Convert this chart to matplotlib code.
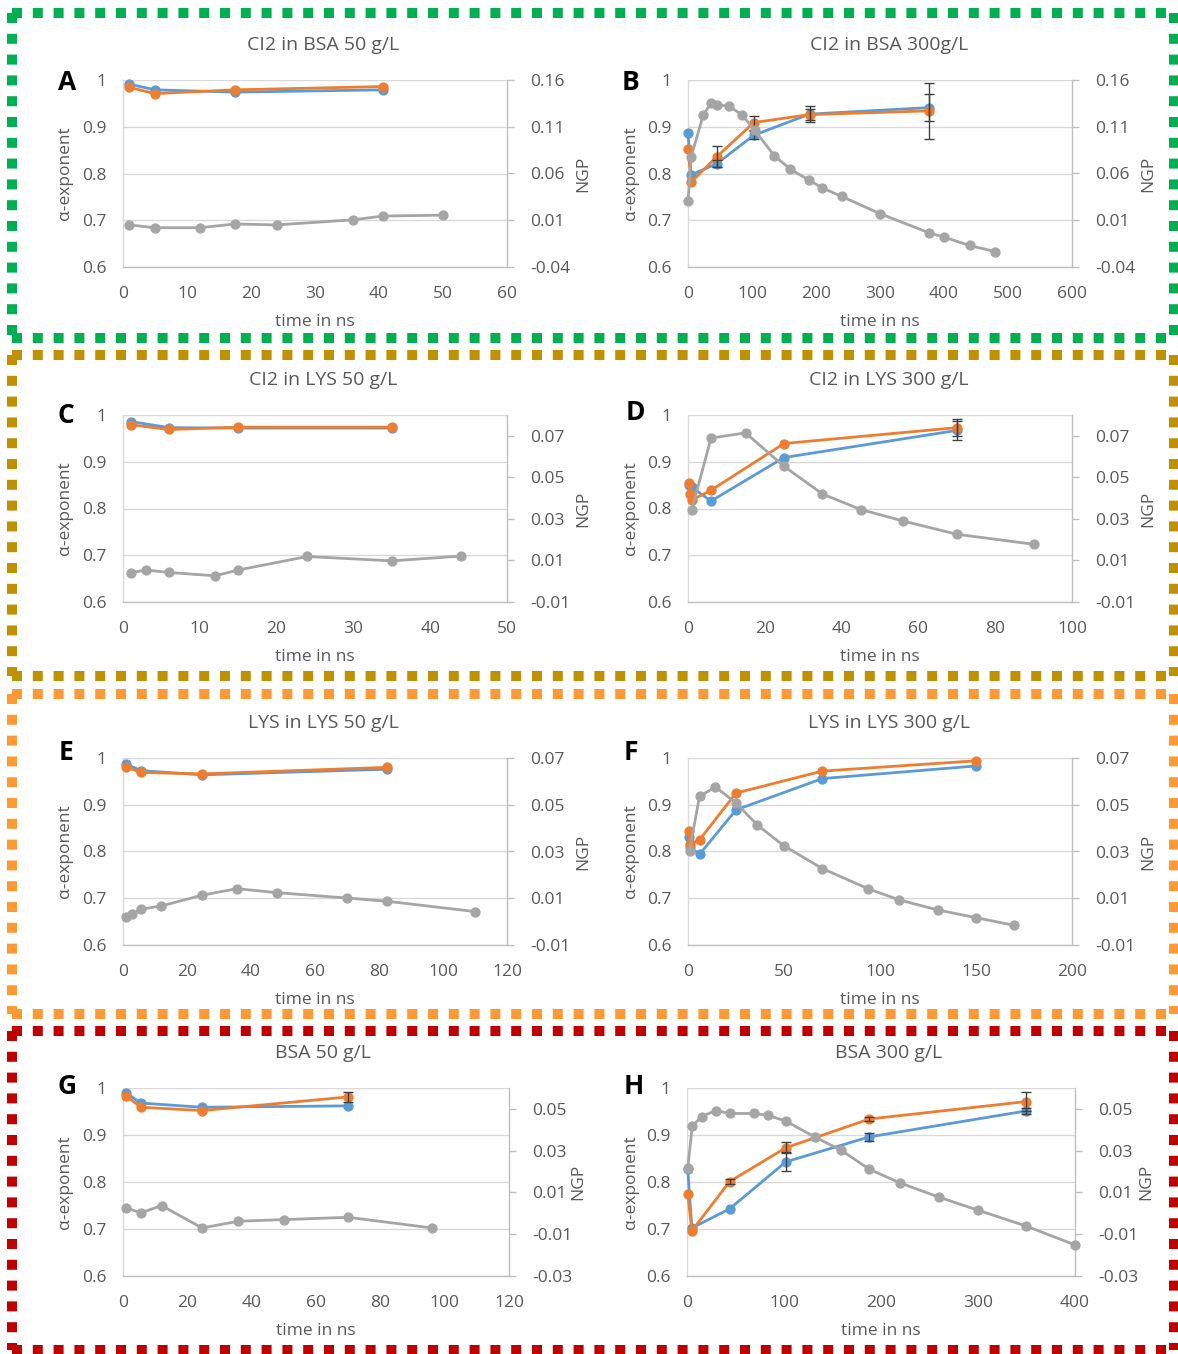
import numpy as np
import matplotlib
matplotlib.use("Agg")
import matplotlib.pyplot as plt
from matplotlib.lines import Line2D

plt.rcParams['font.family'] = ['Open Sans', 'DejaVu Sans']

# ---------------- data ----------------
# Panel A : CI2 in BSA 50 g/L
tA = [1, 5, 17.5, 40.7]
A_blue = [0.991, 0.979, 0.974, 0.979]
A_orange = [0.984, 0.971, 0.979, 0.986]
tA_ngp = [1, 5, 12, 17.5, 24, 36, 40.6, 50]
A_ngp = [0.005, 0.002, 0.002, 0.006, 0.005, 0.0105, 0.0145, 0.0155]

# Panel B : CI2 in BSA 300 g/L
tB = [0, 5, 45, 103, 190, 377]
B_blue = [0.886, 0.797, 0.821, 0.882, 0.927, 0.941]
B_orange = [0.852, 0.782, 0.836, 0.909, 0.926, 0.934]
B_blue_err = [0, 0, 0.008, 0.008, 0.017, 0.028]
B_orange_err = [0, 0, 0.022, 0.015, 0.012, 0.06]
tB_ngp = [0, 5, 24, 36, 45, 64, 84, 104, 135, 160, 189, 210, 240, 300, 377, 400, 440, 480]
B_ngp = [0.0305, 0.078, 0.123, 0.135, 0.1335, 0.132, 0.123, 0.1065, 0.079, 0.0645,
         0.053, 0.0445, 0.0355, 0.017, -0.0035, -0.008, -0.017, -0.0235]

# Panel C : CI2 in LYS 50 g/L
tC = [1, 6, 15, 35]
C_blue = [0.986, 0.973, 0.972, 0.972]
C_orange = [0.979, 0.969, 0.974, 0.974]
tC_ngp = [1, 3, 6, 12, 15, 24, 35, 44]
C_ngp = [0.0041, 0.0054, 0.0042, 0.0026, 0.0054, 0.0119, 0.0098, 0.0121]

# Panel D : CI2 in LYS 300 g/L
tD_blue = [0.2, 1, 6, 25, 70]
D_blue = [0.85, 0.845, 0.816, 0.909, 0.967]
D_blue_err = [0, 0, 0, 0, 0.02]
tD_orange = [0.2, 0.5, 1, 6, 25, 70]
D_orange = [0.855, 0.832, 0.818, 0.839, 0.939, 0.973]
D_orange_err = [0, 0, 0, 0, 0, 0.018]
tD_ngp = [1, 6, 15, 25, 35, 45, 56, 70, 90]
D_ngp = [0.0345, 0.0689, 0.0714, 0.0553, 0.042, 0.0345, 0.029, 0.0226, 0.0178]

# Panel E : LYS in LYS 50 g/L
tE = [1, 5.6, 24.7, 82.6]
E_blue = [0.987, 0.973, 0.964, 0.976]
E_orange = [0.981, 0.969, 0.966, 0.98]
tE_ngp = [1, 2.7, 5.6, 12, 24.7, 35.6, 48, 70, 82.6, 110]
E_ngp = [0.002, 0.0033, 0.0053, 0.0067, 0.0113, 0.0141, 0.0124, 0.0101, 0.0087, 0.0043]

# Panel F : LYS in LYS 300 g/L
tF_blue = [0.3, 1, 6, 25, 70, 150]
F_blue = [0.83, 0.81, 0.794, 0.889, 0.956, 0.983]
tF_orange = [0.3, 1, 6, 25, 70, 150]
F_orange = [0.844, 0.816, 0.825, 0.925, 0.972, 0.994]
tF_ngp = [0.8, 6, 14.3, 25.2, 36, 50, 70, 94, 110, 130, 150, 170]
F_ngp = [0.0304, 0.0536, 0.0576, 0.0506, 0.0414, 0.0324, 0.0227, 0.014, 0.0093, 0.005, 0.0017, -0.0016]

# Panel G : BSA 50 g/L
tG = [0.8, 5.6, 24.6, 70]
G_blue = [0.99, 0.968, 0.959, 0.962]
G_orange = [0.984, 0.959, 0.952, 0.981]
G_orange_err = [0, 0, 0, 0.01]
tG_ngp = [0.8, 5.6, 12, 24.6, 35.8, 50, 70, 96]
G_ngp = [0.0026, 0.0003, 0.0037, -0.007, -0.0038, -0.003, -0.0019, -0.007]

# Panel H : BSA 300 g/L
tH = [0.8, 5, 44, 102, 188, 349]
H_blue = [0.827, 0.702, 0.743, 0.843, 0.896, 0.951]
H_blue_err = [0, 0, 0, 0.02, 0.008, 0.007]
H_orange = [0.775, 0.696, 0.801, 0.873, 0.934, 0.971]
H_orange_err = [0, 0, 0.005, 0.012, 0.005, 0.02]
tH_ngp = [0.8, 5.4, 15, 29.5, 44, 69, 83, 102, 131.5, 159, 188, 219.5, 260, 300, 349, 400]
H_ngp = [0.0217, 0.0417, 0.0463, 0.0492, 0.0478, 0.0478, 0.047, 0.0441, 0.0366,
         0.0302, 0.0211, 0.0146, 0.0077, 0.0015, -0.006, -0.0151]

titles = ["CI2 in BSA 50 g/L", "CI2 in BSA 300g/L", "CI2 in LYS 50 g/L", "CI2 in LYS 300 g/L",
          "LYS in LYS 50 g/L", "LYS in LYS 300 g/L", "BSA 50 g/L", "BSA 300 g/L"]
letters = ["A", "B", "C", "D", "E", "F", "G", "H"]
alpha_ticks = [0.6, 0.7, 0.8, 0.9, 1.0]
alpha_labels = ["0.6", "0.7", "0.8", "0.9", "1"]
ngp_ticks_AB = [-0.04, 0.01, 0.06, 0.11, 0.16]
ngp_ticks_CD = [-0.01, 0.01, 0.03, 0.05, 0.07]
ngp_ticks_EF = [-0.01, 0.01, 0.03, 0.05, 0.07]
ngp_ticks_GH = [-0.03, -0.01, 0.01, 0.03, 0.05]

# ---------------- style ----------------
BLUE = "#5B9BD5"
ORANGE = "#ED7D31"
GRAY = "#A5A5A5"
TXT = "#595959"
ERR = "#404040"

W, H = 1178, 1354
fig = plt.figure(figsize=(W / 100, H / 100), dpi=100)


def rect(l, r, t, b):
    return [l / W, 1 - b / H, (r - l) / W, (b - t) / H]


def fmt_ngp(v):
    return f"{v:.2f}"


def panel(box, xlim, xstep, ngp_lim, ngp_ticks, series, ngp, title, letter,
          title_x, title_y, letter_xy, ylab_x, ngplab_x, xlab_y):
    l, r, t, b = box
    ax = fig.add_axes(rect(l, r, t, b))
    ax.set_xlim(*xlim)
    ax.set_ylim(0.6, 1.0)
    xt = np.arange(xlim[0], xlim[1] + 1e-9, xstep)
    ax.set_xticks(xt)
    ax.set_xticklabels([f"{int(v)}" for v in xt])
    ax.set_yticks(alpha_ticks)
    ax.set_yticklabels(alpha_labels)
    ax.grid(axis='y', color="#D9D9D9", linewidth=1.0)
    ax.set_axisbelow(True)
    for s in ["top", "right"]:
        ax.spines[s].set_visible(False)
    ax.spines["left"].set_color("#D9D9D9")
    ax.spines["bottom"].set_color("#BFBFBF")
    ax.spines["left"].set_linewidth(1.0)
    ax.spines["bottom"].set_linewidth(1.0)
    ax.tick_params(axis='both', length=0, labelsize=12.5, labelcolor=TXT)
    ax.tick_params(axis='y', pad=12)
    ax.tick_params(axis='x', pad=14)
    ax.patch.set_alpha(0)

    for (tt, yy, ee, col) in series:
        ax.plot(tt, yy, color=col, lw=2.0, marker='o', ms=6.4, mfc=col, mec=col,
                clip_on=False, zorder=3)
        if ee is not None:
            ee = np.asarray(ee, float)
            m = ee > 0
            if m.any():
                ax.errorbar(np.asarray(tt)[m], np.asarray(yy)[m], yerr=ee[m], fmt='none',
                            ecolor=ERR, elinewidth=1.0, capsize=3.5, capthick=1.0, zorder=5)

    ax2 = ax.twinx()
    ax2.set_ylim(*ngp_lim)
    ax2.set_yticks(ngp_ticks)
    ax2.set_yticklabels([fmt_ngp(v) for v in ngp_ticks])
    for s in ["top", "left", "bottom"]:
        ax2.spines[s].set_visible(False)
    ax2.spines["right"].set_color("#BFBFBF")
    ax2.spines["right"].set_linewidth(1.0)
    ax2.tick_params(axis='y', length=5, width=1.0, color="#BFBFBF", labelsize=12.5,
                    labelcolor=TXT, pad=12)
    tn, vn = ngp
    ax2.plot(tn, vn, color=GRAY, lw=2.0, marker='o', ms=6.4, mfc=GRAY, mec=GRAY,
             clip_on=False, zorder=3)

    fig.text(title_x / W, 1 - title_y / H, title, ha='center', va='center',
             fontsize=14, color=TXT)
    fig.text(letter_xy[0] / W, 1 - letter_xy[1] / H, letter, ha='center', va='center',
             fontsize=19, fontweight='bold', color='black')
    fig.text(ylab_x / W, 1 - (t + b) / 2 / H, "α-exponent", rotation=90, ha='center',
             va='center', fontsize=12.5, color=TXT)
    fig.text(ngplab_x / W, 1 - (t + b) / 2 / H, "NGP", rotation=90, ha='center',
             va='center', fontsize=12.5, color=TXT)
    fig.text((l + r) / 2 / W, 1 - xlab_y / H, "time in ns", ha='center', va='center',
             fontsize=12.5, color=TXT)


# row 1
panel((123, 507, 80, 267), (0, 60), 10, (-0.04, 0.16), ngp_ticks_AB,
      [(tA, A_blue, None, BLUE), (tA, A_orange, None, ORANGE)], (tA_ngp, A_ngp),
      titles[0], letters[0], 323, 45, (67, 82), 65, 583, 322)
panel((688, 1072, 80, 267), (0, 600), 100, (-0.04, 0.16), ngp_ticks_AB,
      [(tB, B_blue, B_blue_err, BLUE), (tB, B_orange, B_orange_err, ORANGE)], (tB_ngp, B_ngp),
      titles[1], letters[1], 889, 45, (630, 82), 631, 1148, 322)
# row 2
panel((123, 507, 415, 602), (0, 50), 10, (-0.01, 0.08), ngp_ticks_CD,
      [(tC, C_blue, None, BLUE), (tC, C_orange, None, ORANGE)], (tC_ngp, C_ngp),
      titles[2], letters[2], 323, 380, (66, 416), 65, 583, 657)
panel((688, 1072, 415, 602), (0, 100), 20, (-0.01, 0.08), ngp_ticks_CD,
      [(tD_blue, D_blue, D_blue_err, BLUE), (tD_orange, D_orange, D_orange_err, ORANGE)],
      (tD_ngp, D_ngp), titles[3], letters[3], 889, 380, (635, 412), 631, 1148, 657)
# row 3
panel((123, 507, 758, 945), (0, 120), 20, (-0.01, 0.07), ngp_ticks_EF,
      [(tE, E_blue, None, BLUE), (tE, E_orange, None, ORANGE)], (tE_ngp, E_ngp),
      titles[4], letters[4], 323, 723, (66, 752), 65, 583, 1000)
panel((688, 1072, 758, 945), (0, 200), 50, (-0.01, 0.07), ngp_ticks_EF,
      [(tF_blue, F_blue, None, BLUE), (tF_orange, F_orange, None, ORANGE)], (tF_ngp, F_ngp),
      titles[5], letters[5], 889, 723, (631, 752), 631, 1148, 1000)
# row 4
panel((123, 509, 1088, 1276), (0, 120), 20, (-0.03, 0.06), ngp_ticks_GH,
      [(tG, G_blue, None, BLUE), (tG, G_orange, G_orange_err, ORANGE)], (tG_ngp, G_ngp),
      titles[6], letters[6], 323, 1053, (67, 1086), 65, 578, 1331)
panel((687, 1075, 1088, 1276), (0, 400), 100, (-0.03, 0.06), ngp_ticks_GH,
      [(tH, H_blue, H_blue_err, BLUE), (tH, H_orange, H_orange_err, ORANGE)], (tH_ngp, H_ngp),
      titles[7], letters[7], 889, 1053, (634, 1086), 631, 1146, 1331)

# ---------------- dashed frames ----------------
lw_pt = 10 * 72 / 100
dash = (0, (1.0, 1.08))


def frame(x0, x1, y0, y1, color):
    segs = [((x0, x1), (y0, y0)), ((x0, x1), (y1, y1)),
            ((x0, x0), (y0, y1)), ((x1, x1), (y0, y1))]
    for xs, ys in segs:
        ln = Line2D([xs[0] / W, xs[1] / W], [1 - ys[0] / H, 1 - ys[1] / H],
                    transform=fig.transFigure, color=color, lw=lw_pt,
                    linestyle=dash, dash_capstyle='butt', solid_capstyle='butt')
        fig.add_artist(ln)


frame(12, 1174, 13, 338, "#00B050")
frame(12, 1174, 355, 676, "#BF9000")
frame(12, 1174, 694, 1014, "#FF9933")
frame(12, 1174, 1031, 1350, "#C00000")

fig.savefig("out.png", dpi=100)
